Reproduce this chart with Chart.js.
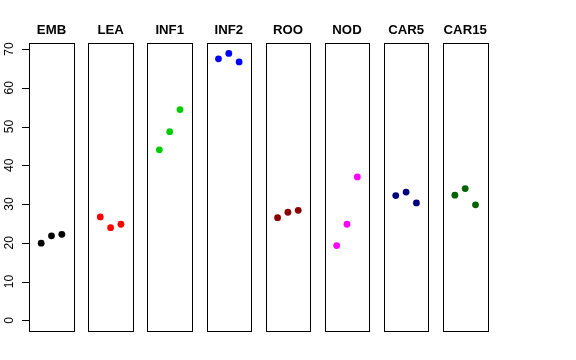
<!DOCTYPE html>
<html>
<head>
<meta charset="utf-8">
<script src="https://cdn.jsdelivr.net/npm/chart.js@4/dist/chart.umd.min.js"></script>
<style>
  html, body { margin: 0; padding: 0; background: #ffffff; }
  #wrap { position: relative; width: 576px; height: 360px; background: #ffffff; }
  #wrap canvas { position: absolute; left: 0; top: 0; }
</style>
</head>
<body>
<div id="wrap"></div>
<script>
// ---- data ----
const panelNames = ['EMB', 'LEA', 'INF1', 'INF2', 'ROO', 'NOD', 'CAR5', 'CAR15'];
const panelColors = ['#000000', '#FF0000', '#00CD00', '#0000FF', '#8B0000', '#FF00FF', '#000080', '#006400'];
const xPositions = [1, 2, 3];
const EMB = [19.9, 21.8, 22.2];
const LEA = [26.7, 23.9, 24.8];
const INF1 = [44.0, 48.7, 54.4];
const INF2 = [67.5, 68.9, 66.7];
const ROO = [26.5, 27.9, 28.4];
const NOD = [19.3, 24.8, 37.0];
const CAR5 = [32.2, 33.1, 30.3];
const CAR15 = [32.3, 34.0, 29.8];
const panelValues = [EMB, LEA, INF1, INF2, ROO, NOD, CAR5, CAR15];
const yTickValues = [0, 10, 20, 30, 40, 50, 60, 70];
const yLimits = [0, 68.9];
const xLimits = [0, 4];

// ---- layout ----
const W = 576, H = 360;
const left0 = 29.2, step = 59.1, pw = 44.6;
const boxTop = 42.7, boxBottom = 331;
const ext = (a, b) => { const d = (b - a) * 0.04; return [a - d, b + d]; };
const yR = ext(yLimits[0], yLimits[1]);
const xR = ext(xLimits[0], xLimits[1]);

const wrap = document.getElementById('wrap');

panelNames.forEach((name, i) => {
  const cv = document.createElement('canvas');
  cv.width = W; cv.height = H;
  cv.style.width = W + 'px'; cv.style.height = H + 'px';
  wrap.appendChild(cv);
  const L = left0 + step * i;
  const deco = {
    id: 'deco' + i,
    afterDraw(chart) {
      const ctx = chart.ctx;
      const a = chart.chartArea;
      ctx.save();
      ctx.strokeStyle = '#000000';
      ctx.lineWidth = 1;
      ctx.strokeRect(Math.round(a.left) + 0.5, Math.round(a.top) + 0.5,
                     Math.round(a.right) - Math.round(a.left), Math.round(a.bottom) - Math.round(a.top));
      ctx.fillStyle = '#000000';
      ctx.font = 'bold 13.2px "Liberation Sans", Arial, sans-serif';
      ctx.textAlign = 'center';
      ctx.textBaseline = 'alphabetic';
      ctx.fillText(name, (a.left + a.right) / 2, 34.3);
      if (i === 0) {
        const ys = chart.scales.y;
        const x0 = Math.round(a.left) + 0.5;
        ctx.beginPath();
        yTickValues.forEach(v => {
          const y = Math.round(ys.getPixelForValue(v)) + 0.5;
          ctx.moveTo(x0, y); ctx.lineTo(x0 - 7.5, y);
        });
        const yTop = Math.round(ys.getPixelForValue(yTickValues[yTickValues.length - 1])) + 0.5;
        const yBot = Math.round(ys.getPixelForValue(yTickValues[0])) + 0.5;
        ctx.moveTo(x0, yTop); ctx.lineTo(x0, yBot);
        ctx.stroke();
        ctx.font = '12px "Liberation Sans", Arial, sans-serif';
        yTickValues.forEach(v => {
          const y = ys.getPixelForValue(v);
          ctx.save();
          ctx.translate(12.6, y);
          ctx.rotate(-Math.PI / 2);
          ctx.textAlign = 'center';
          ctx.textBaseline = 'alphabetic';
          ctx.fillText(String(v), 0, 0);
          ctx.restore();
        });
      }
      ctx.restore();
    }
  };
  new Chart(cv, {
    type: 'scatter',
    data: {
      datasets: [{
        data: xPositions.map((x, k) => ({ x: x, y: panelValues[i][k] })),
        backgroundColor: panelColors[i],
        borderWidth: 0,
        pointRadius: 3.4,
        pointHoverRadius: 3.4
      }]
    },
    options: {
      responsive: false,
      animation: false,
      devicePixelRatio: 1,
      events: [],
      layout: { padding: { left: L, right: W - L - pw, top: boxTop, bottom: H - boxBottom } },
      scales: {
        x: { type: 'linear', min: xR[0], max: xR[1], display: false },
        y: { type: 'linear', min: yR[0], max: yR[1], display: false }
      },
      plugins: { legend: { display: false }, tooltip: { enabled: false }, title: { display: false } }
    },
    plugins: [deco]
  });
});
</script>
</body>
</html>
